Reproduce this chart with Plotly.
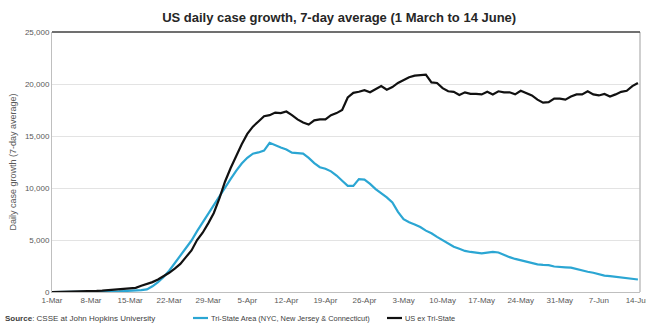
import pandas as pd
import plotly.graph_objects as go

dates = pd.date_range("2020-03-01", "2020-06-14", freq="D")

tri_state = [0, 0, 0, 2, 4, 6, 10, 15, 20, 30, 40, 55, 70, 90, 110, 130, 180, 250, 550, 950,
             1450, 2050, 2750, 3450, 4150, 4950, 5850, 6700, 7500, 8400, 9250, 10100, 10850, 11650, 12350, 12900,
             13300, 13420, 13600, 14350, 14100, 13900, 13700, 13400, 13350, 13300, 12900, 12400, 12000, 11850,
             11600, 11200, 10700, 10200, 10200, 10850, 10800, 10400, 9900, 9500, 9100, 8600, 7700, 7000, 6700,
             6500, 6250, 5900, 5650, 5300, 5000, 4650, 4350, 4150, 3950, 3850, 3750, 3720, 3780, 3850, 3800,
             3550, 3350, 3180, 3050, 2920, 2780, 2650, 2600, 2580, 2450, 2380, 2370, 2340, 2200, 2050, 1950,
             1850, 1700, 1580, 1520, 1450, 1380, 1300, 1230, 1200]

us_ex = [0, 5, 10, 15, 25, 35, 50, 70, 100, 130, 170, 210, 260, 290, 300, 400, 600, 750, 950, 1200,
         1500, 1850, 2250, 2700, 3350, 4000, 5000, 5700, 6600, 7600, 9000, 10600, 11900, 13100, 14200, 15200,
         15900, 16400, 16900, 17000, 17250, 17200, 17350, 17000, 16600, 16300, 16100, 16500, 16600, 16600,
         17000, 17200, 17500, 18700, 19150, 19250, 19400, 19200, 19500, 19800, 19450, 19700, 20100, 20350, 20650,
         20800, 20850, 20900, 20150, 20100, 19600, 19300, 19250, 18950, 19200, 19050, 19050, 19000, 19250, 19000,
         19300, 19200, 19200, 19000, 19350, 19150, 18900, 18500, 18200, 18250, 18600, 18600, 18500, 18800, 19000,
         19000, 19300, 19000, 18900, 19050, 18800, 19000, 19250, 19350, 19800, 20100]

tick_dates = ["2020-03-01", "2020-03-08", "2020-03-15", "2020-03-22", "2020-03-29", "2020-04-05",
              "2020-04-12", "2020-04-19", "2020-04-26", "2020-05-03", "2020-05-10", "2020-05-17",
              "2020-05-24", "2020-05-31", "2020-06-07", "2020-06-14"]
tick_labels = ["1-Mar", "8-Mar", "15-Mar", "22-Mar", "29-Mar", "5-Apr", "12-Apr", "19-Apr", "26-Apr",
               "3-May", "10-May", "17-May", "24-May", "31-May", "7-Jun", "14-Jun"]
y_ticks = [0, 5000, 10000, 15000, 20000, 25000]
y_labels = ["0", "5,000", "10,000", "15,000", "20,000", "25,000"]

series_names = ["Tri-State Area (NYC, New Jersey & Connecticut)", "US ex Tri-State"]
series_colors = ["#2ba6d3", "#111111"]

FONT = "Liberation Sans, Arial, sans-serif"

fig = go.Figure()
for name, vals, col in zip(series_names, [tri_state, us_ex], series_colors):
    fig.add_trace(go.Scatter(x=dates, y=vals, mode="lines", name=name,
                             line=dict(color=col, width=2.2)))

fig.update_layout(
    width=646, height=323,
    margin=dict(l=52, r=6, t=32, b=31, autoexpand=False),
    paper_bgcolor="white", plot_bgcolor="white",
    font=dict(family=FONT, size=8, color="#595959"),
    title=dict(text="<b>US daily case growth, 7-day average (1 March to 14 June)</b>",
               x=0.525, xanchor="center", y=0.947, yanchor="middle",
               font=dict(family=FONT, size=13, color="#262626")),
    showlegend=False,
)
fig.update_xaxes(range=["2020-03-01", "2020-06-14 09:00"], tickvals=tick_dates, ticktext=tick_labels,
                 showgrid=False, showline=True, linecolor="#bfbfbf", linewidth=1, ticks="",
                 tickfont=dict(size=8, color="#595959"), zeroline=False, automargin=False,
                 ticklabeloverflow="allow")
fig.update_yaxes(range=[0, 25000], tickvals=y_ticks, ticktext=y_labels, showgrid=True,
                 gridcolor="#e3e3e3", gridwidth=1, showline=True, linecolor="#bfbfbf", linewidth=1,
                 ticks="", tickfont=dict(size=8, color="#595959"), zeroline=False, automargin=False,
                 title=dict(text="Daily case growth (7-day average)", font=dict(size=9, color="#595959"),
                            standoff=6))
fig.add_shape(type="line", xref="paper", yref="paper", x0=1, x1=1, y0=0, y1=1,
              line=dict(color="#bfbfbf", width=1.5))
fig.add_shape(type="line", xref="paper", yref="paper", x0=0, x1=1, y0=1, y1=1,
              line=dict(color="#404040", width=1.5))

# legend drawn manually
leg_y = -0.1
leg_x = [(0.2398, 0.2653), (0.5697, 0.5952)]
for (x0, x1), name, col in zip(leg_x, series_names, series_colors):
    fig.add_shape(type="line", xref="paper", yref="paper", x0=x0, x1=x1, y0=leg_y, y1=leg_y,
                  line=dict(color=col, width=2.2))
    fig.add_annotation(text=name, xref="paper", yref="paper", x=x1 + 0.002, y=leg_y,
                       xanchor="left", yanchor="middle", showarrow=False,
                       font=dict(family=FONT, size=7.4, color="#404040"))

fig.add_annotation(text="<b>Source</b>: CSSE at John Hopkins University", xref="paper", yref="paper",
                   x=-0.083, y=leg_y, xanchor="left", yanchor="middle", showarrow=False,
                   font=dict(family=FONT, size=8, color="#404040"))

fig.write_html("out.html")
